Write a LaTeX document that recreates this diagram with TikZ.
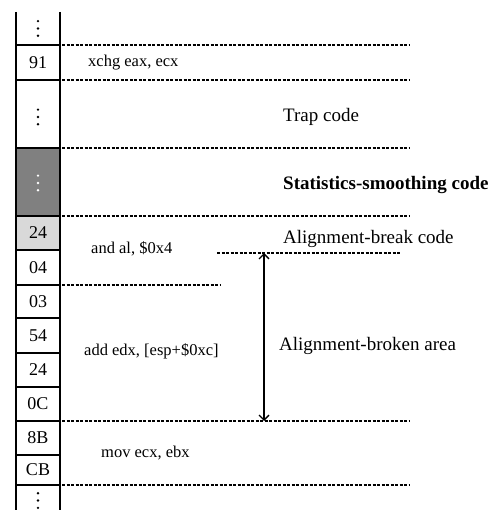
\documentclass[tikz,border=0pt]{standalone}
\usepackage{fontspec}
\setmainfont{Liberation Serif}
\usetikzlibrary{arrows.meta,calc}
\begin{document}
\begin{tikzpicture}[x=1pt,y=-1pt,
  cell/.style={draw,line width=1.8pt,minimum width=44pt,inner sep=0pt,outer sep=0pt,
    font=\fontsize{18}{21}\selectfont},
  opencell/.style={minimum width=44pt,inner sep=0pt,outer sep=0pt},
  side/.style={line width=1.8pt},
  sep/.style={line width=1.2pt,dash pattern=on 3pt off 1.5pt},
  instr/.style={anchor=west,inner sep=0pt,font=\fontsize{16.5}{19}\selectfont},
  region/.style={anchor=west,inner sep=0pt,font=\fontsize{19}{22}\selectfont}
]
\useasboundingbox (0,0) rectangle (492,510);

% memory column: one byte per cell
\node[opencell,minimum height=33pt] (ctop) at (38,28.5) {};
\node[cell,minimum height=35pt] (c91)  at (38,62.5)  {91};
\node[cell,minimum height=68pt] (cdot) at (38,114)   {};
\node[cell,minimum height=68pt,fill={rgb,255:red,128;green,128;blue,128}] (cgray) at (38,182) {};
\node[cell,minimum height=34pt,fill={rgb,255:red,217;green,217;blue,217}] (c24) at (38,233) {24};
\node[cell,minimum height=35pt] (c04)  at (38,267.5) {04};
\node[cell,minimum height=33pt] (c03)  at (38,301.5) {03};
\node[cell,minimum height=35pt] (c54)  at (38,335.5) {54};
\node[cell,minimum height=34pt] (c24b) at (38,370)   {24};
\node[cell,minimum height=34pt] (c0C)  at (38,404)   {0C};
\node[cell,minimum height=34pt] (c8B)  at (38,438)   {8B};
\node[cell,minimum height=30pt] (cCB)  at (38,470)   {CB};
\node[opencell,minimum height=30pt] (cbot) at (38,500) {};

% open ends of the column
\draw[side] (ctop.north west) -- (ctop.south west);
\draw[side] (ctop.north east) -- (ctop.south east);
\draw[side] (cbot.north west) -- (cbot.south west);
\draw[side] (cbot.north east) -- (cbot.south east);

% elided bytes
\foreach \d in {-7.3,0,7.3} {
  \fill ($(ctop.center)+(0,\d)$) circle (1.3);
  \fill ($(cdot.center)+(0,\d+3)$) circle (1.3);
  \fill[white] ($(cgray.center)+(0,\d+1)$) circle (1.3);
  \fill ($(cbot.center)+(0,\d+0.5)$) circle (1.3);
}

% instruction boundaries
\coordinate (e45)  at (410,45);
\coordinate (e80)  at (410,80);
\coordinate (e148) at (410,148);
\coordinate (e216) at (410,216);
\coordinate (e285) at (220,285);
\coordinate (e421) at (410,421);
\coordinate (e485) at (410,485);
\coordinate (bL) at (217,253);
\coordinate (bR) at (400,253);
\draw[sep] ([xshift=2pt]c91.north east)  -- (e45);
\draw[sep] ([xshift=2pt]c91.south east)  -- (e80);
\draw[sep] ([xshift=2pt]cgray.north east) -- (e148);
\draw[sep] ([xshift=2pt]cgray.south east) -- (e216);
\draw[sep] ([xshift=2pt]c04.south east)  -- (e285);
\draw[sep] ([xshift=2pt]c8B.north east)  -- (e421);
\draw[sep] ([xshift=2pt]cCB.south east)  -- (e485);
\draw[sep] (bL) -- (bR);

% extent of the misaligned bytes
\coordinate (aTop) at (264,253);
\coordinate (aBot) at (264,421);
\draw[line width=1.3pt,{Straight Barb[length=5pt,width=10pt]}-{Straight Barb[length=5pt,width=10pt]}] (aTop) -- (aBot);

% instruction texts
\node[instr] (i1) at (88,62.5) {xchg eax, ecx};
\node[instr] (i2) at (91,249) {and al, \$0x4};
\node[instr] (i3) at (84,351) {add edx, [esp+\$0xc]};
\node[instr] (i4) at (101,453) {mov ecx, ebx};

% region labels
\node[region] (r1) at (283,117) {Trap code};
\node[region] (r2) at (283,185) {\bfseries Statistics-smoothing code};
\node[region] (r3) at (283,239) {Alignment-break code};
\node[region] (r4) at (279,346) {Alignment-broken area};
\end{tikzpicture}
\end{document}
